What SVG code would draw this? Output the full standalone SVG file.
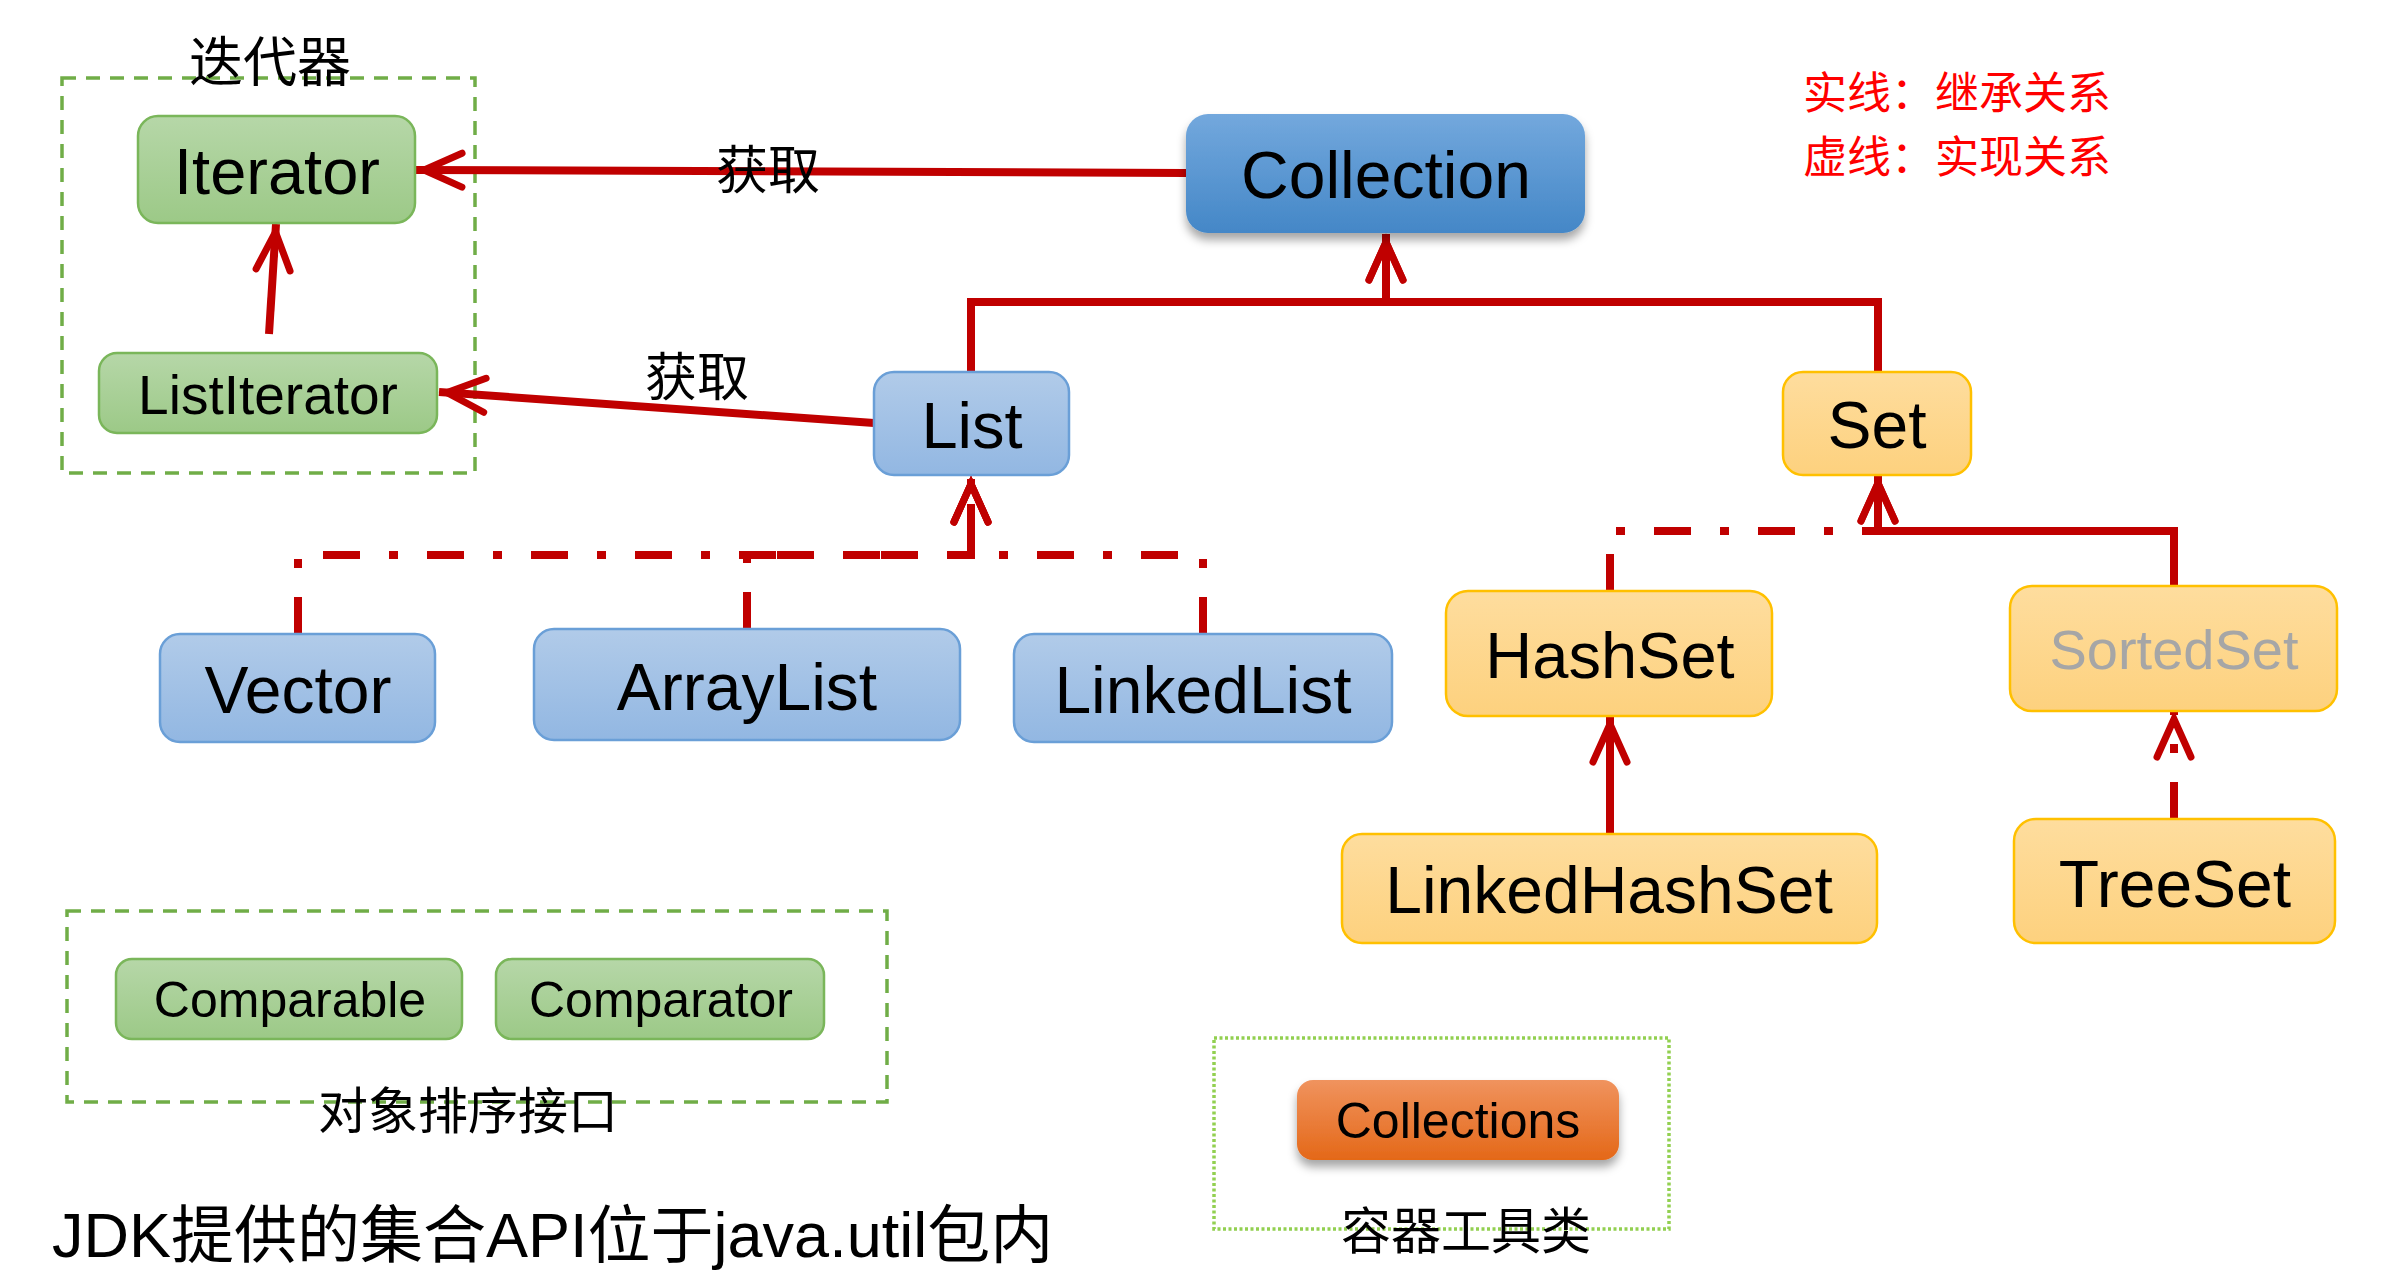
<svg xmlns="http://www.w3.org/2000/svg" width="2408" height="1278" viewBox="0 0 2408 1278">
<defs>
<linearGradient id="gGreen" x1="0" y1="0" x2="0" y2="1"><stop offset="0" stop-color="#B6D7A8"/><stop offset="1" stop-color="#9CC987"/></linearGradient>
<linearGradient id="gBlue" x1="0" y1="0" x2="0" y2="1"><stop offset="0" stop-color="#B1CBE9"/><stop offset="1" stop-color="#92B7E2"/></linearGradient>
<linearGradient id="gDark" x1="0" y1="0" x2="0" y2="1"><stop offset="0" stop-color="#73A8DD"/><stop offset="1" stop-color="#4487C7"/></linearGradient>
<linearGradient id="gYellow" x1="0" y1="0" x2="0" y2="1"><stop offset="0" stop-color="#FEDD9E"/><stop offset="1" stop-color="#FDD17E"/></linearGradient>
<linearGradient id="gOrange" x1="0" y1="0" x2="0" y2="1"><stop offset="0" stop-color="#F0935E"/><stop offset="1" stop-color="#E46818"/></linearGradient>
<filter id="shadow" x="-10%" y="-10%" width="120%" height="140%"><feDropShadow dx="0" dy="7" stdDeviation="5" flood-color="#000" flood-opacity="0.35"/></filter>
<marker id="arr" markerUnits="userSpaceOnUse" orient="auto" markerWidth="60" markerHeight="60" viewBox="-50 -30 60 60" refX="8" refY="0" overflow="visible">
<path d="M-38,-17 L0,0 L-38,17" fill="none" stroke="#C00000" stroke-width="7" stroke-linecap="round" stroke-linejoin="miter"/>
</marker>
</defs>
<style>
.green{fill:url(#gGreen);stroke:#7AB65A;stroke-width:2.5}
.blue{fill:url(#gBlue);stroke:#6A9FD7;stroke-width:2.5}
.dark{fill:url(#gDark);filter:url(#shadow)}
.yellow{fill:url(#gYellow);stroke:#FFC000;stroke-width:2.5}
.orange{fill:url(#gOrange);filter:url(#shadow)}
.lbl{font-family:"Liberation Sans",Arial,sans-serif;fill:#000;text-anchor:middle}
.cjk{font-family:"Noto Sans CJK SC",sans-serif;fill:#000;text-anchor:middle}
.grp{fill:none;stroke:#70AD47;stroke-width:3.5;stroke-dasharray:14 10}
.dot{fill:none;stroke:#92D050;stroke-width:3.5;stroke-dasharray:3 2.5}
.solid{fill:none;stroke:#C00000;stroke-width:8}
.dash{fill:none;stroke:#C00000;stroke-width:8;stroke-dasharray:37 29 9 29}
.arrow{marker-end:url(#arr)}
.legend{font-family:"Noto Sans CJK SC",sans-serif;fill:#FF0000;font-size:44px}
</style>
<rect width="2408" height="1278" fill="#fff"/>

<g id="group-iterator">
<rect class="grp" x="62" y="78" width="413" height="395"/>
<text class="cjk" x="270" y="82" font-size="54">迭代器</text>
</g>
<g id="group-sort">
<rect class="grp" x="67" y="911" width="820" height="191"/>
<text class="cjk" x="468" y="1129" font-size="50">对象排序接口</text>
</g>
<g id="group-tools">
<rect class="dot" x="1214" y="1038" width="455" height="191"/>
<text class="cjk" x="1466" y="1249" font-size="50">容器工具类</text>
</g>

<g id="connectors">
<path class="solid arrow" d="M1186,173 L416,170"/>
<text class="cjk" x="768" y="189" font-size="52">获取</text>
<path class="solid arrow" d="M874,423 L439,392"/>
<text class="cjk" x="697" y="396" font-size="52">获取</text>
<path class="solid arrow" d="M269,334 L276,224"/>
<path class="solid arrow" d="M971,372 V302 H1386 V234"/>
<path class="solid arrow" d="M1878,372 V302 H1386 V234"/>
<path class="dash arrow" d="M298,634 V555 H971 V476"/>
<path class="dash arrow" d="M747,629 V555 H971 V476"/>
<path class="dash arrow" d="M1203,634 V555 H971 V476"/>
<path class="dash arrow" d="M1610,591 V531 H1878 V475"/>
<path class="solid arrow" d="M2174,586 V531 H1878 V475"/>
<path class="solid arrow" d="M1610,834 V716"/>
<path class="dash arrow" d="M2174,819 V711"/>
</g>

<g id="node-iterator"><rect class="green" x="138" y="116" width="277" height="107" rx="20"/><text class="lbl" x="277" y="194" font-size="65">Iterator</text></g>
<g id="node-listiterator"><rect class="green" x="99" y="353" width="338" height="80" rx="18"/><text class="lbl" x="268" y="414" font-size="55">ListIterator</text></g>
<g id="node-collection"><rect class="dark" x="1186" y="114" width="399" height="119" rx="22"/><text class="lbl" x="1386" y="198" font-size="66">Collection</text></g>
<g id="node-list"><rect class="blue" x="874" y="372" width="195" height="103" rx="20"/><text class="lbl" x="972" y="448" font-size="65">List</text></g>
<g id="node-set"><rect class="yellow" x="1783" y="372" width="188" height="103" rx="20"/><text class="lbl" x="1877" y="448" font-size="66">Set</text></g>
<g id="node-vector"><rect class="blue" x="160" y="634" width="275" height="108" rx="20"/><text class="lbl" x="298" y="713" font-size="66">Vector</text></g>
<g id="node-arraylist"><rect class="blue" x="534" y="629" width="426" height="111" rx="20"/><text class="lbl" x="747" y="710" font-size="66">ArrayList</text></g>
<g id="node-linkedlist"><rect class="blue" x="1014" y="634" width="378" height="108" rx="20"/><text class="lbl" x="1203" y="713" font-size="66">LinkedList</text></g>
<g id="node-hashset"><rect class="yellow" x="1446" y="591" width="326" height="125" rx="22"/><text class="lbl" x="1610" y="678" font-size="65">HashSet</text></g>
<g id="node-sortedset"><rect class="yellow" x="2010" y="586" width="327" height="125" rx="22"/><text class="lbl" x="2174" y="669" font-size="56" style="fill:#A6A6A6">SortedSet</text></g>
<g id="node-linkedhashset"><rect class="yellow" x="1342" y="834" width="535" height="109" rx="20"/><text class="lbl" x="1609" y="913" font-size="66">LinkedHashSet</text></g>
<g id="node-treeset"><rect class="yellow" x="2014" y="819" width="321" height="124" rx="22"/><text class="lbl" x="2175" y="907" font-size="66">TreeSet</text></g>
<g id="node-comparable"><rect class="green" x="116" y="959" width="346" height="80" rx="16"/><text class="lbl" x="290" y="1017" font-size="50">Comparable</text></g>
<g id="node-comparator"><rect class="green" x="496" y="959" width="328" height="80" rx="16"/><text class="lbl" x="661" y="1017" font-size="50">Comparator</text></g>
<g id="node-collections"><rect class="orange" x="1297" y="1080" width="322" height="80" rx="16"/><text class="lbl" x="1458" y="1138" font-size="50">Collections</text></g>

<g id="legend">
<text class="legend" x="1803" y="109">实线：继承关系</text>
<text class="legend" x="1803" y="173">虚线：实现关系</text>
</g>
<text x="52" y="1257" font-size="63" style="font-family:'Liberation Sans','Noto Sans CJK SC',sans-serif;fill:#000">JDK提供的集合API位于java.util包内</text>
</svg>
